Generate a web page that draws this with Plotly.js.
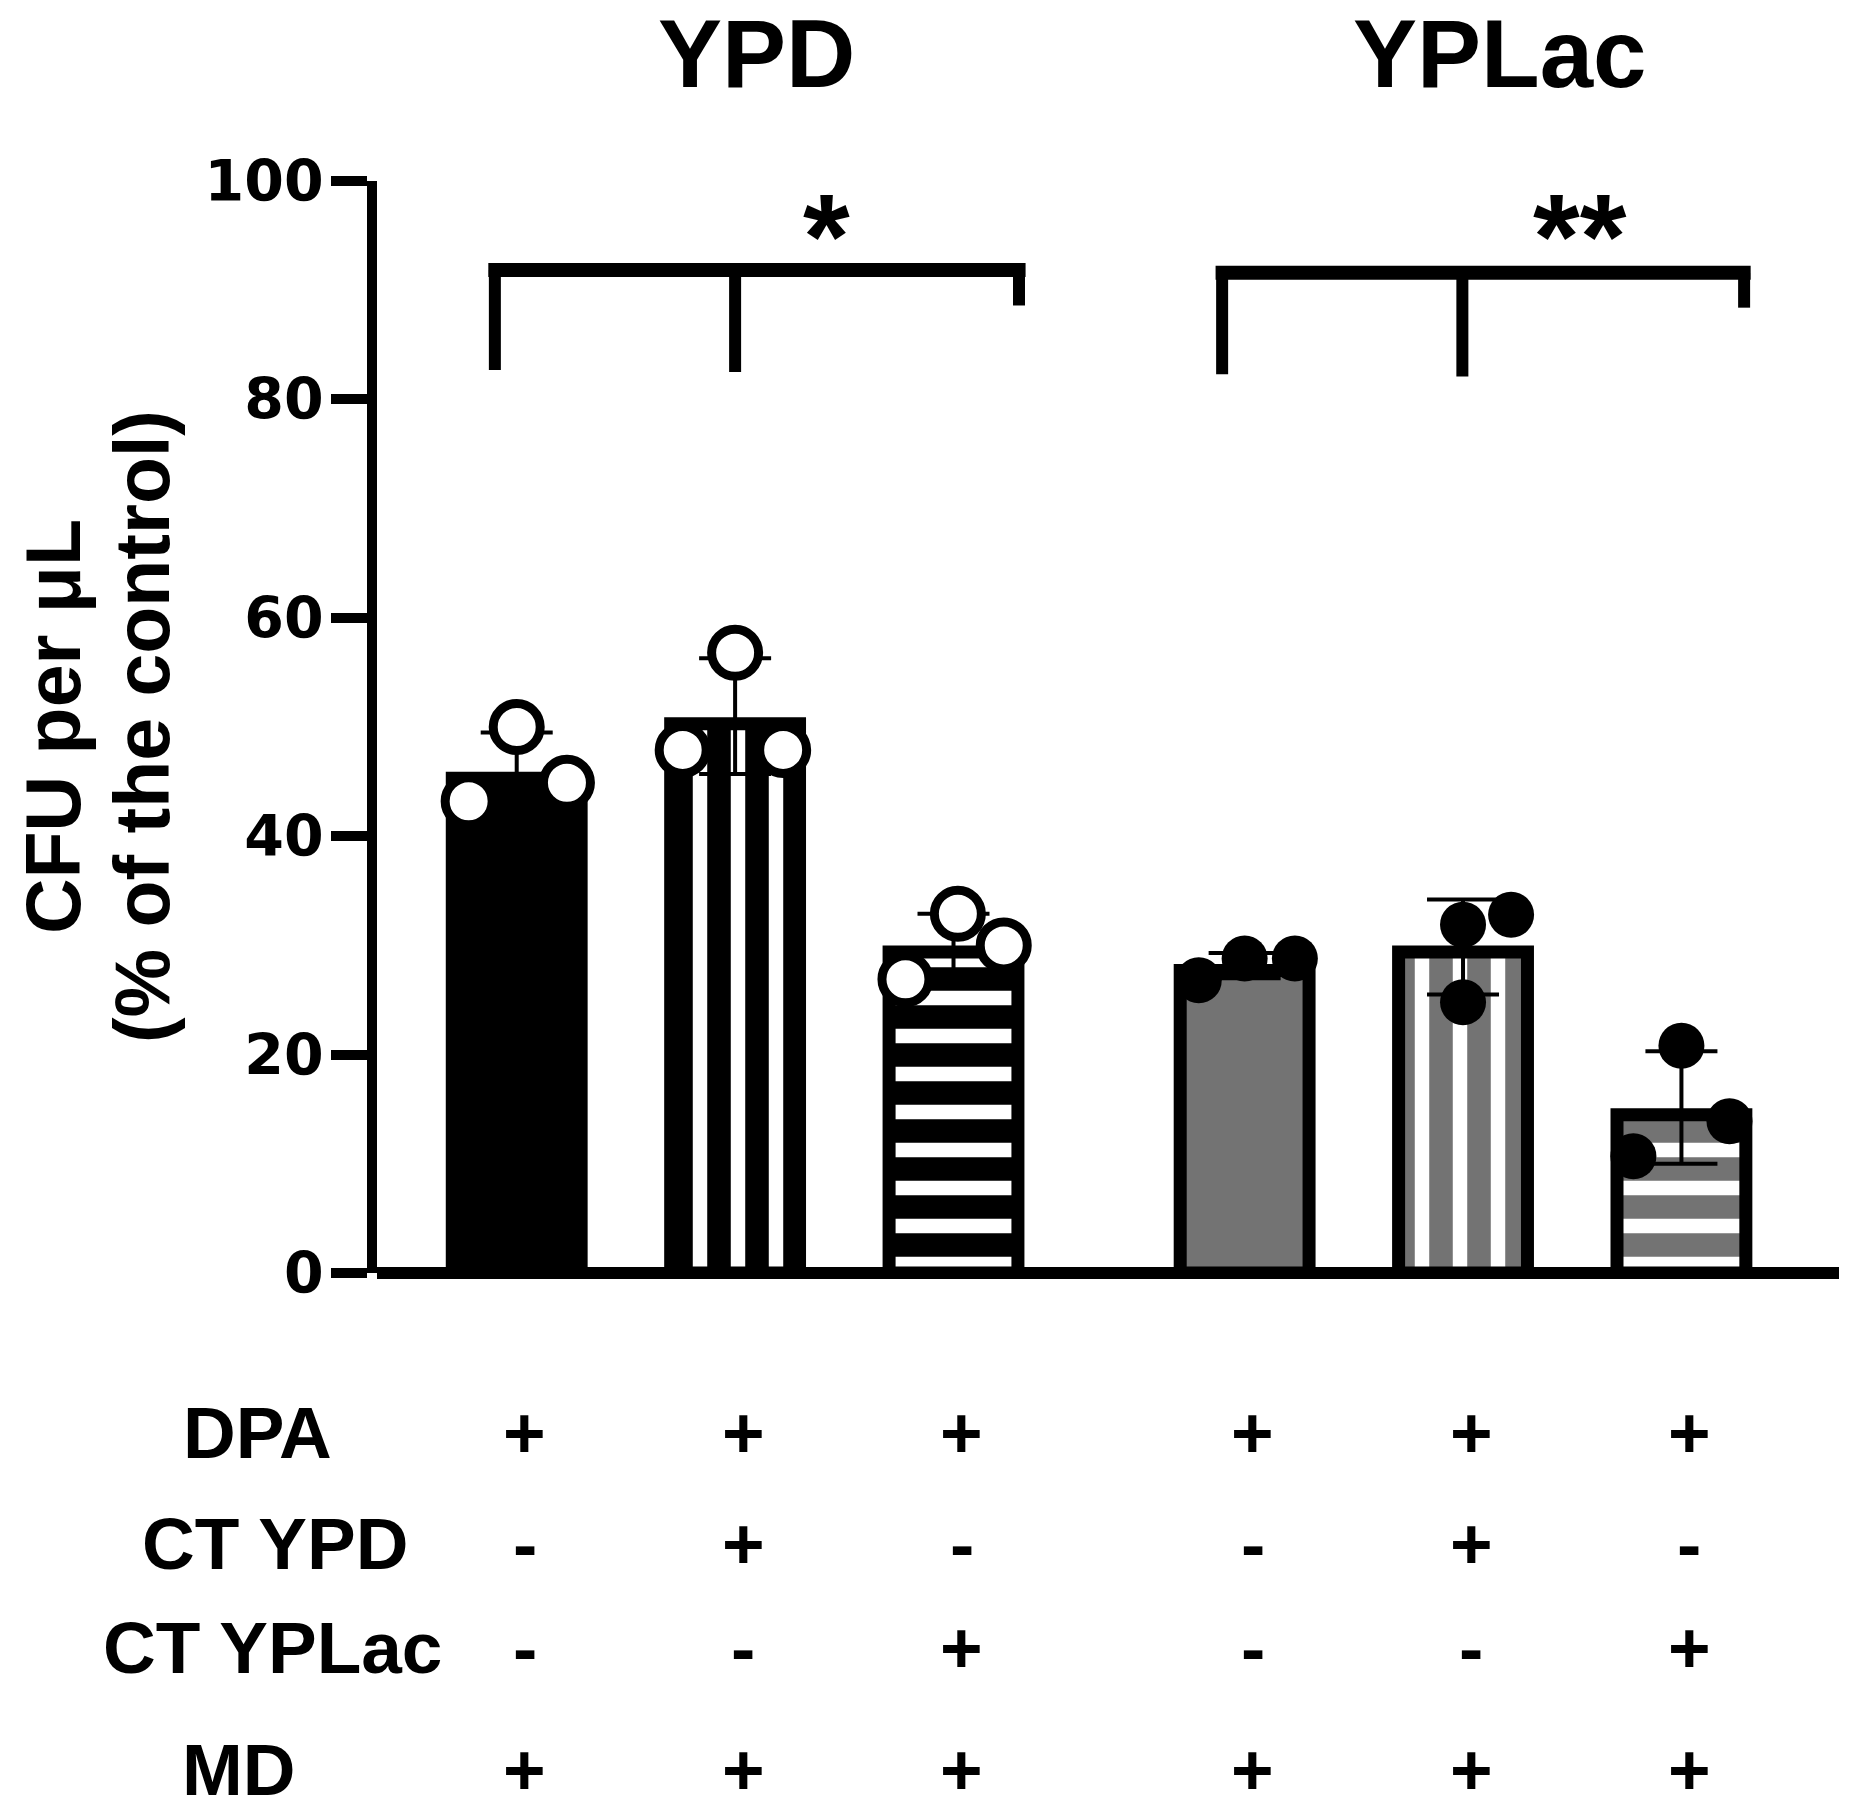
<!DOCTYPE html>
<html>
<head>
<meta charset="utf-8">
<script src="https://cdn.plot.ly/plotly-3.0.1.min.js"></script>
<style>
  body { margin: 0; background: white; }
  #chart { width: 1854px; height: 1816px; }
</style>
</head>
<body>
<div id="chart"></div>
<script>
// bar positions (YPD group, gap, YPLac group)
var barX = [0, 1, 2, 3.333, 4.333, 5.333];
var barMeans = [45.3, 50.3, 29.4, 27.7, 29.4, 14.5];
// error bar caps (mean +/- SD) as drawn
var capTop = [49.5, 56.3, 32.9, 29.3, 34.2, 20.3];
var capBottom = [42.5, 45.7, 26.9, 27.0, 25.5, 10.0];

// individual replicates
var pointOffsets = [[-0.22, 0, 0.23], [0, -0.24, 0.22], [-0.22, 0.02, 0.23],
                    [-0.21, 0, 0.23], [0, 0.22, 0], [0, 0.22, -0.22]];
var pointValues = [[43.2, 50.0, 44.9], [56.8, 47.9, 47.9], [26.9, 32.9, 30.0],
                   [26.8, 28.8, 28.8], [31.9, 32.8, 24.8], [20.8, 13.9, 10.7]];

var groupTitles = ['YPD', 'YPLac'];
var groupTitleX = [1.1, 4.5];

// significance brackets
var bracketX = [[-0.1, 1, 2.3], [3.23, 4.33, 5.62]];
var bracketTop = [91.85, 91.6];
var bracketBottom = [[82.7, 82.5, 88.6], [82.3, 82.1, 88.4]];
var starText = ['*', '**'];
var starX = [1.42, 4.87];

// treatment table under the chart
var rowLabels = ['DPA', 'CT YPD', 'CT YPLac', 'MD'];
var rowSigns = [
	['+', '+', '+', '+', '+', '+'],
	['-', '+', '-', '-', '+', '-'],
	['-', '-', '+', '-', '-', '+'],
	['+', '+', '+', '+', '+', '+']
];
var rowY = [-0.1465, -0.2473, -0.3425, -0.455];
var rowLabelX = [-0.0815, -0.0698, -0.0715, -0.0944];

var yTicks = [0, 20, 40, 60, 80, 100];

var boldFont = 'Liberation Sans, Arial, sans-serif';


function buildTraces() {
	let errUp = [];
	let errDown = [];
	for (var i = 0; i < barMeans.length; i++) {
		errUp.push(capTop[i] - barMeans[i]);
		errDown.push(barMeans[i] - capBottom[i]);
	}

	let bars = {
		type: 'bar',
		x: barX,
		y: barMeans,
		width: 0.59,
		hoverinfo: 'skip',
		marker: {
			color: ['#000', '#000', '#000', '#737373', '#737373', '#737373'],
			line: {color: '#000', width: 13},
			pattern: {
				shape: ['', '|', '-', '', '|', '-'],
				bgcolor: ['#000', '#000', '#000', '#737373', '#737373', '#737373'],
				fgcolor: ['#000', '#fff', '#fff', '#737373', '#fff', '#dedede'],
				fgopacity: 1,
				size: 38,
				solidity: 0.38,
				fillmode: 'overlay'
			}
		},
		error_y: {
			type: 'data',
			symmetric: false,
			array: errUp,
			arrayminus: errDown,
			visible: true,
			color: '#000',
			thickness: 4,
			width: 36
		}
	};

	// split replicates into the two groups (open / filled circles)
	let ypd = {x: [], y: []};
	let yplac = {x: [], y: []};
	for (var i = 0; i < barX.length; i++) {
		let target = i < 3 ? ypd : yplac;
		for (var j = 0; j < pointValues[i].length; j++) {
			target.x.push(barX[i] + pointOffsets[i][j]);
			target.y.push(pointValues[i][j]);
		}
	}

	let ypdPoints = {
		type: 'scatter', mode: 'markers', x: ypd.x, y: ypd.y, cliponaxis: false,
		hoverinfo: 'skip',
		marker: {symbol: 'circle', size: 47, color: '#fff', line: {color: '#000', width: 9}}
	};
	let yplacPoints = {
		type: 'scatter', mode: 'markers', x: yplac.x, y: yplac.y, cliponaxis: false,
		hoverinfo: 'skip',
		marker: {symbol: 'circle', size: 46, color: '#000', line: {width: 0}}
	};
	return [bars, ypdPoints, yplacPoints];
}


function buildShapes() {
	let shapes = [];
	for (var g = 0; g < bracketX.length; g++) {
		let xs = bracketX[g];
		// horizontal bar of the bracket
		shapes.push({
			type: 'line', xref: 'x', yref: 'y',
			x0: xs[0] - 0.03, x1: xs[2] + 0.03, y0: bracketTop[g], y1: bracketTop[g],
			line: {color: '#000', width: 14}
		});
		// drops
		for (var k = 0; k < xs.length; k++) {
			shapes.push({
				type: 'line', xref: 'x', yref: 'y',
				x0: xs[k], x1: xs[k], y0: bracketTop[g], y1: bracketBottom[g][k],
				line: {color: '#000', width: 12}
			});
		}
	}
	return shapes;
}


function buildAnnotations() {
	let notes = [];

	// group titles and stars
	for (var g = 0; g < groupTitles.length; g++) {
		notes.push({
			text: groupTitles[g], xref: 'x', yref: 'paper', x: groupTitleX[g], y: 1.117,
			xanchor: 'center', yanchor: 'middle', showarrow: false,
			font: {family: boldFont, size: 96, color: '#000', weight: 'bold'}
		});
		notes.push({
			text: starText[g], xref: 'x', yref: 'y', x: starX[g], y: 95,
			xanchor: 'center', yanchor: 'middle', showarrow: false,
			font: {family: boldFont, size: 120, color: '#000', weight: 'bold'}
		});
	}

	// y axis title, two rotated lines
	notes.push({
		text: 'CFU per μL', xref: 'paper', yref: 'paper', x: -0.2216, y: 0.5,
		xanchor: 'center', yanchor: 'middle', textangle: -90, showarrow: false,
		font: {family: boldFont, size: 77, color: '#000', weight: 'bold'}
	});
	notes.push({
		text: '(% of the control)', xref: 'paper', yref: 'paper', x: -0.1607, y: 0.5,
		xanchor: 'center', yanchor: 'middle', textangle: -90, showarrow: false,
		font: {family: boldFont, size: 77, color: '#000', weight: 'bold'}
	});

	// treatment table
	for (var r = 0; r < rowLabels.length; r++) {
		notes.push({
			text: rowLabels[r], xref: 'paper', yref: 'paper', x: rowLabelX[r], y: rowY[r],
			xanchor: 'center', yanchor: 'middle', showarrow: false,
			font: {family: boldFont, size: 73, color: '#000', weight: 'bold'}
		});
		for (var c = 0; c < barX.length; c++) {
			notes.push({
				text: rowSigns[r][c], xref: 'x', yref: 'paper', x: barX[c], y: rowY[r],
				xanchor: 'center', yanchor: 'middle', xshift: 8, showarrow: false,
				font: {family: boldFont, size: 73, color: '#000', weight: 'bold'}
			});
		}
	}
	return notes;
}


function generateChart(id) {
	let layout = {
		width: 1854,
		height: 1816,
		margin: {l: 377, r: 15, t: 181, b: 543, pad: 0},
		paper_bgcolor: '#fff',
		plot_bgcolor: '#fff',
		showlegend: false,
		xaxis: {
			range: [-0.6397, 6.0545],
			showline: false,
			showticklabels: false, ticks: '', showgrid: false, zeroline: false
		},
		yaxis: {
			range: [0, 100],
			tickvals: yTicks,
			ticks: 'outside', ticklen: 36, tickwidth: 10, tickcolor: '#000',
			ticklabelstandoff: -4,
			showline: true, linecolor: '#000', linewidth: 10,
			showgrid: false,
			zeroline: true, zerolinecolor: '#000', zerolinewidth: 12,
			tickfont: {family: 'DejaVu Sans', size: 57, color: '#000', weight: 'bold'}
		},
		shapes: buildShapes(),
		annotations: buildAnnotations()
	};
	Plotly.newPlot(document.getElementById(id), buildTraces(), layout, {displayModeBar: false, staticPlot: true});
}

generateChart('chart');
</script>
</body>
</html>
